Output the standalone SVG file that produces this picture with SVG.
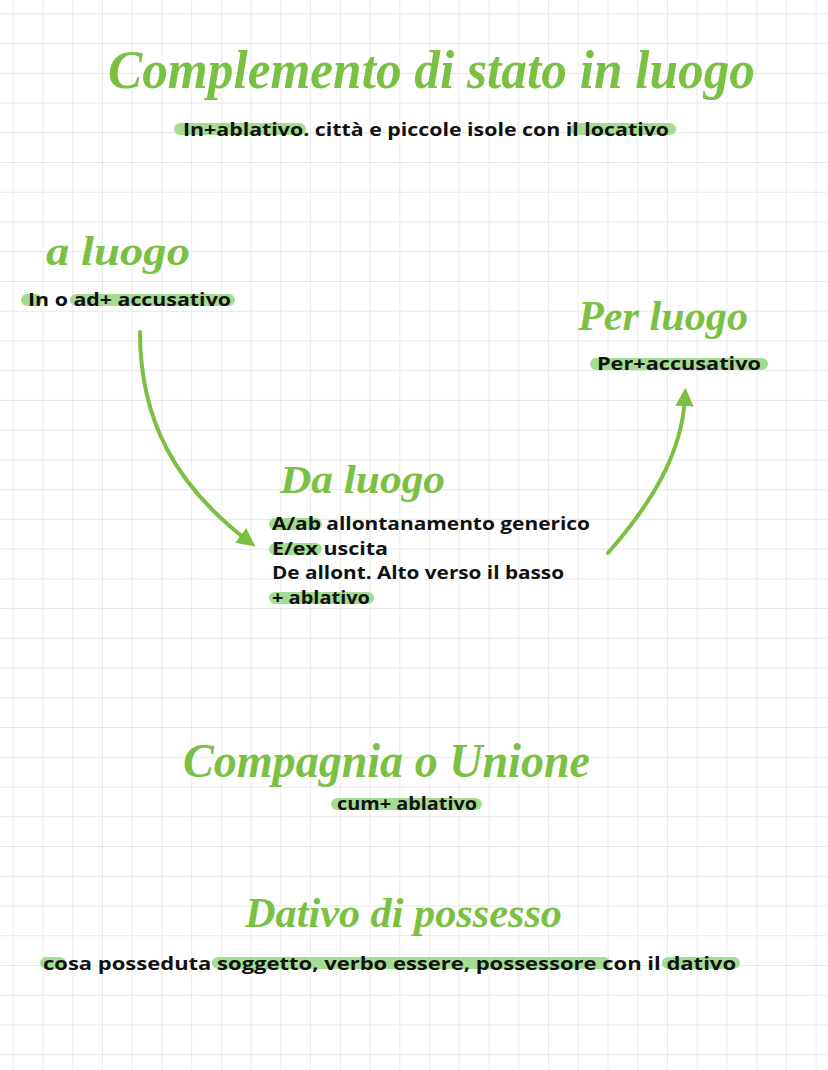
<svg xmlns="http://www.w3.org/2000/svg" width="828" height="1070" viewBox="0 0 828 1070">
<defs>
<pattern id="grid" x="12.7" y="13.3" width="29.74" height="29.74" patternUnits="userSpaceOnUse">
<path d="M0,0 H29.74 M0,0 V29.74" fill="none" stroke="#e0e0e4" stroke-width="1.3"/>
</pattern>
<marker id="ah" viewBox="0 0 10 10" refX="5" refY="5" markerWidth="4.6" markerHeight="4.6" orient="auto" markerUnits="strokeWidth">
<path d="M0,0 L10,5 L0,10 Z" fill="#7ac143"/>
</marker>
<style>
.title{font-family:"Liberation Serif","DejaVu Serif",serif;font-style:italic;font-weight:bold;fill:#7ac143}
.body{font-family:"Open Sans","Noto Sans","Liberation Sans",sans-serif;font-weight:700;font-size:18px;fill:#111}
.hl{stroke:#9ad985;stroke-width:12;stroke-linecap:round;fill:none;opacity:0.9}
.conn{stroke:#7ac143;stroke-width:4;fill:none;stroke-linecap:round}
</style>
</defs>
<rect width="828" height="1070" fill="#ffffff"/>
<rect width="828" height="1070" fill="url(#grid)"/>

<g id="stato-in-luogo">
<text class="title" x="108" y="88" font-size="54" textLength="647" lengthAdjust="spacingAndGlyphs">Complemento di stato in luogo</text>
<path class="hl" d="M180,129 H300 M576,129 H670"/>
<text class="body" x="183" y="136" textLength="486" lengthAdjust="spacingAndGlyphs">In+ablativo.   città e piccole isole con il locativo</text>
</g>

<g id="a-luogo">
<text class="title" x="46" y="265" font-size="42" textLength="144" lengthAdjust="spacingAndGlyphs">a luogo</text>
<path class="hl" d="M27,300 H36 M76,300 H229"/>
<text class="body" x="28" y="306" textLength="203" lengthAdjust="spacingAndGlyphs">In o ad+ accusativo</text>
</g>

<g id="per-luogo">
<text class="title" x="578" y="330" font-size="42" textLength="170" lengthAdjust="spacingAndGlyphs">Per luogo</text>
<path class="hl" d="M596,364 H762"/>
<text class="body" x="597" y="370" textLength="164" lengthAdjust="spacingAndGlyphs">Per+accusativo</text>
</g>

<g id="da-luogo">
<text class="title" x="280" y="493" font-size="40" textLength="165" lengthAdjust="spacingAndGlyphs">Da luogo</text>
<path class="hl" d="M275,524 H316 M275,549 H316 M275,598 H368"/>
<text class="body" x="272" y="530" textLength="318" lengthAdjust="spacingAndGlyphs">A/ab allontanamento generico</text>
<text class="body" x="272" y="555" textLength="116" lengthAdjust="spacingAndGlyphs">E/ex uscita</text>
<text class="body" x="272" y="579" textLength="292" lengthAdjust="spacingAndGlyphs">De allont. Alto verso il basso</text>
<text class="body" x="272" y="604" textLength="98" lengthAdjust="spacingAndGlyphs">+ ablativo</text>
</g>

<g id="compagnia">
<text class="title" x="183" y="777" font-size="48" textLength="407" lengthAdjust="spacingAndGlyphs">Compagnia o Unione</text>
<path class="hl" d="M337,804 H476"/>
<text class="body" x="337" y="810" textLength="140" lengthAdjust="spacingAndGlyphs">cum+ ablativo</text>
</g>

<g id="dativo-possesso">
<text class="title" x="245" y="927" font-size="42" textLength="317" lengthAdjust="spacingAndGlyphs">Dativo di possesso</text>
<path class="hl" d="M46,963 H60 M218,963 H604 M668,963 H734"/>
<text class="body" x="43" y="970" textLength="693" lengthAdjust="spacingAndGlyphs">cosa posseduta soggetto, verbo essere, possessore con il dativo</text>
</g>

<g id="connectors">
<path class="conn" d="M140,332 C140,420 175,485 248,541" marker-end="url(#ah)"/>
<path class="conn" d="M608,553 C650,505 682,455 685,397" marker-end="url(#ah)"/>
</g>
</svg>
